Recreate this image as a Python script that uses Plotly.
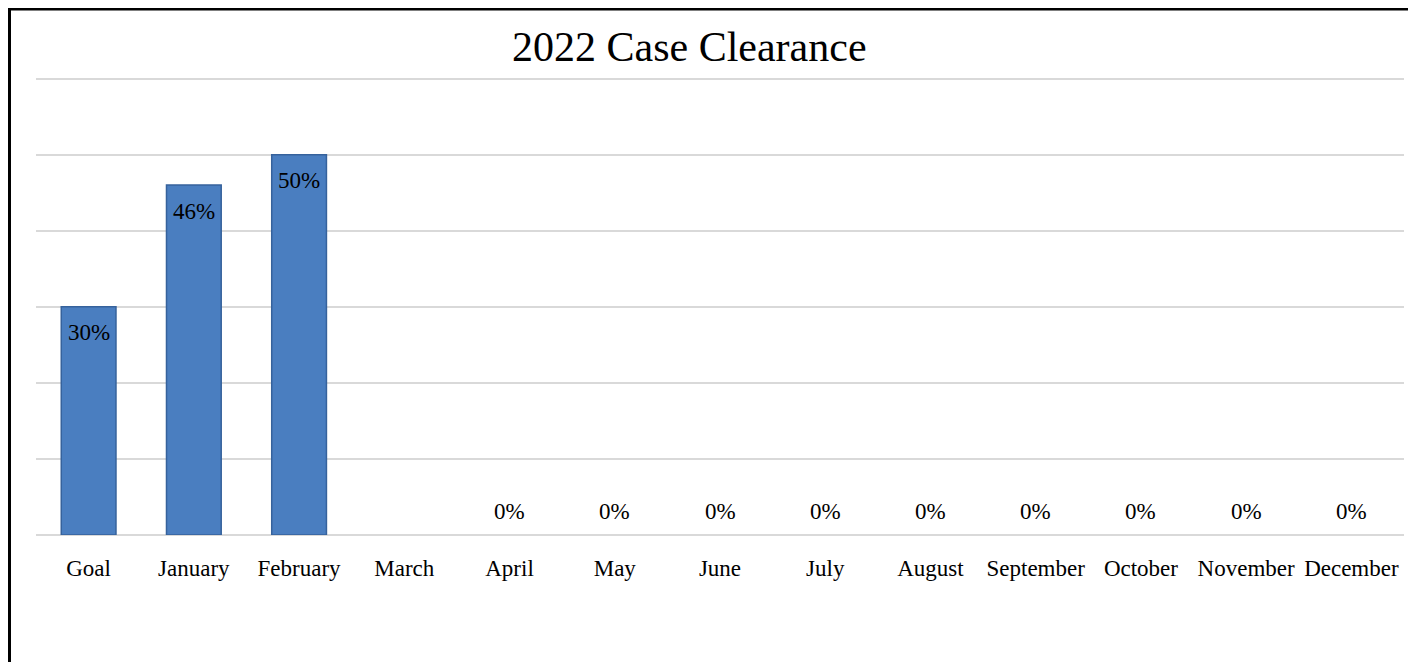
import plotly.graph_objects as go

categories = ["Goal", "January", "February", "March", "April", "May", "June",
              "July", "August", "September", "October", "November", "December"]
values = [30, 46, 50, None, 0, 0, 0, 0, 0, 0, 0, 0, 0]
labels = ["30%", "46%", "50%", "", "0%", "0%", "0%", "0%", "0%", "0%", "0%", "0%", "0%"]
title_text = "2022 Case Clearance"

OFF = 8  # page body margin
W, H = 1416 - OFF, 662 - OFF
UNIT = 456 / 60.0          # pixels per percentage point
YMAX = 61                   # a bit above 60 so the 60% gridline is drawn
L, R, B = 36 - OFF, 12, 127
T = 79 - OFF - (YMAX - 60) * UNIT
FONT = "Liberation Serif, Times New Roman, serif"

pw = W - L - R
ph = H - T - B
base_px = 535 - OFF  # baseline pixel in figure coords


def px_x(x):
    return (x - OFF - L) / pw


def px_y(y):
    return (base_px - (y - OFF)) / ph


fig = go.Figure()
fig.add_trace(go.Bar(
    x=categories, y=values,
    marker=dict(color="#4A7EC0",
                line=dict(color="#36629C",
                          width=[1.5 if (v or 0) > 0 else 0 for v in values])),
    width=0.52,
    hoverinfo="x+y",
))

annotations = []
for c, v, t in zip(categories, values, labels):
    if v is None or not t:
        continue
    annotations.append(dict(
        x=c, y=v, xref="x", yref="y", text=t, showarrow=False,
        yanchor="middle", yshift=(-26 if v > 0 else 24),
        font=dict(family=FONT, size=23, color="#000000"),
    ))

annotations.append(dict(
    x=px_x(689), y=px_y(47), xref="paper", yref="paper",
    text=title_text, showarrow=False, xanchor="center", yanchor="middle",
    font=dict(family=FONT, size=42, color="#000000"),
))

fig.update_layout(
    width=W, height=H,
    margin=dict(l=L, r=R, t=T, b=B, pad=0),
    paper_bgcolor="#FFFFFF", plot_bgcolor="#FFFFFF",
    showlegend=False,
    annotations=annotations,
    shapes=[dict(
        type="rect", xref="paper", yref="paper",
        x0=px_x(9.5), x1=px_x(1440),
        y0=px_y(690), y1=px_y(9.5),
        line=dict(color="#000000", width=3), fillcolor="rgba(0,0,0,0)",
        layer="above",
    )],
    xaxis=dict(
        showgrid=False, showline=False, zeroline=False,
        ticks="outside", ticklen=12, tickcolor="rgba(0,0,0,0)",
        tickfont=dict(family=FONT, size=23, color="#000000"),
    ),
    yaxis=dict(
        range=[0, YMAX], tickvals=[0, 10, 20, 30, 40, 50, 60], showticklabels=False,
        showgrid=True, gridcolor="#D9D9D9", gridwidth=2,
        zeroline=True, zerolinecolor="#D9D9D9", zerolinewidth=2,
        showline=False,
    ),
    bargap=0.48,
)

fig.write_html("out.html")
